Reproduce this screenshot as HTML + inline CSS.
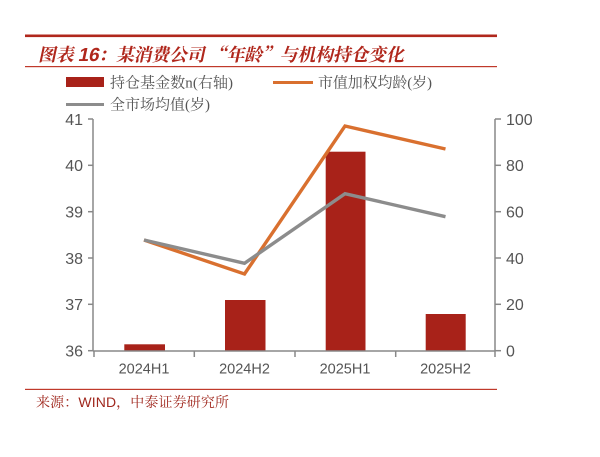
<!DOCTYPE html>
<html><head><meta charset="utf-8"><style>
html,body{margin:0;padding:0;background:#fff;}
svg{display:block;}
</style></head><body>
<svg width="600" height="457" viewBox="0 0 600 457" xmlns="http://www.w3.org/2000/svg">
<rect x="0" y="0" width="600" height="457" fill="#fff"/>
<rect x="25" y="34.5" width="472" height="2.6" fill="#B0271C"/>
<g transform="translate(38,61) skewX(-12)">
<text x="0" y="0" font-family="'Noto Serif CJK SC','Noto Sans CJK SC',serif" font-size="18" font-weight="bold" fill="#B0271C" textLength="366" lengthAdjust="spacing">图表 <tspan font-family="'Liberation Sans',sans-serif" font-size="19">16</tspan>：某消费公司 “年龄”与机构持仓变化</text>
</g>
<rect x="25" y="66" width="472" height="1.2" fill="#C0392B"/>

<!-- legend -->
<rect x="66" y="77" width="38" height="10" fill="#A82219"/>
<text x="110" y="87.5" font-family="'Liberation Serif','Noto Serif CJK SC',serif" font-size="15" fill="#555" textLength="123" lengthAdjust="spacing">持仓基金数n(右轴)</text>
<rect x="273" y="81" width="40" height="3" fill="#D9702F"/>
<text x="318" y="87.5" font-family="'Liberation Serif','Noto Serif CJK SC',serif" font-size="15" fill="#555" textLength="114" lengthAdjust="spacing">市值加权均龄(岁)</text>
<rect x="66" y="103" width="38" height="3" fill="#8C8C8C"/>
<text x="110" y="109.5" font-family="'Liberation Serif','Noto Serif CJK SC',serif" font-size="15" fill="#555" textLength="100" lengthAdjust="spacing">全市场均值(岁)</text>

<!-- bars -->
<g fill="#A82219">
<rect x="124.3" y="344.3" width="40.7" height="6.4"/>
<rect x="225" y="300" width="40.5" height="50.7"/>
<rect x="325.7" y="151.7" width="39.8" height="199"/>
<rect x="425.7" y="314" width="40" height="36.7"/>
</g>

<!-- axes -->
<g stroke="#888" stroke-width="1.5" fill="none">
<line x1="93" y1="119" x2="93" y2="351"/>
<line x1="495" y1="119" x2="495" y2="351"/>
<line x1="93" y1="351" x2="495" y2="351"/>
<line x1="88" y1="119" x2="93" y2="119"/>
<line x1="88" y1="165.3" x2="93" y2="165.3"/>
<line x1="88" y1="211.7" x2="93" y2="211.7"/>
<line x1="88" y1="258" x2="93" y2="258"/>
<line x1="88" y1="304.3" x2="93" y2="304.3"/>
<line x1="88" y1="350.7" x2="93" y2="350.7"/>
<line x1="495" y1="119" x2="501" y2="119"/>
<line x1="495" y1="165.3" x2="501" y2="165.3"/>
<line x1="495" y1="211.7" x2="501" y2="211.7"/>
<line x1="495" y1="258" x2="501" y2="258"/>
<line x1="495" y1="304.3" x2="501" y2="304.3"/>
<line x1="495" y1="350.7" x2="501" y2="350.7"/>
<line x1="94" y1="351" x2="94" y2="357"/>
<line x1="194.3" y1="351" x2="194.3" y2="357"/>
<line x1="295" y1="351" x2="295" y2="357"/>
<line x1="395.7" y1="351" x2="395.7" y2="357"/>
<line x1="495" y1="351" x2="495" y2="357"/>
</g>

<!-- lines -->
<polyline points="144,240 244.5,274 345,126 445.5,149" fill="none" stroke="#D9702F" stroke-width="3.4" stroke-linejoin="miter"/>
<polyline points="144,240 244.5,263.3 345,193.7 445.5,216.7" fill="none" stroke="#8C8C8C" stroke-width="3.4" stroke-linejoin="miter"/>

<!-- left labels -->
<g font-family="'Liberation Sans',sans-serif" font-size="16" fill="#555" text-anchor="end">
<text x="83" y="125">41</text>
<text x="83" y="171">40</text>
<text x="83" y="217.5">39</text>
<text x="83" y="264">38</text>
<text x="83" y="310">37</text>
<text x="83" y="356.5">36</text>
</g>
<g font-family="'Liberation Sans',sans-serif" font-size="16" fill="#555" text-anchor="start">
<text x="506" y="125">100</text>
<text x="506" y="171">80</text>
<text x="506" y="217.5">60</text>
<text x="506" y="264">40</text>
<text x="506" y="310">20</text>
<text x="506" y="356.5">0</text>
</g>
<g font-family="'Liberation Sans',sans-serif" font-size="14.5" fill="#555" text-anchor="middle">
<text x="144" y="373.5">2024H1</text>
<text x="244.5" y="373.5">2024H2</text>
<text x="345" y="373.5">2025H1</text>
<text x="445.5" y="373.5">2025H2</text>
</g>

<rect x="25" y="388.8" width="472" height="1.2" fill="#C0392B"/>
<text x="36" y="407" font-family="'Liberation Sans','Noto Serif CJK SC',serif" font-size="14" fill="#A0281E" textLength="193" lengthAdjust="spacing">来源：<tspan font-family="'Liberation Sans',sans-serif">WIND</tspan>，中泰证券研究所</text>
</svg>
</body></html>
